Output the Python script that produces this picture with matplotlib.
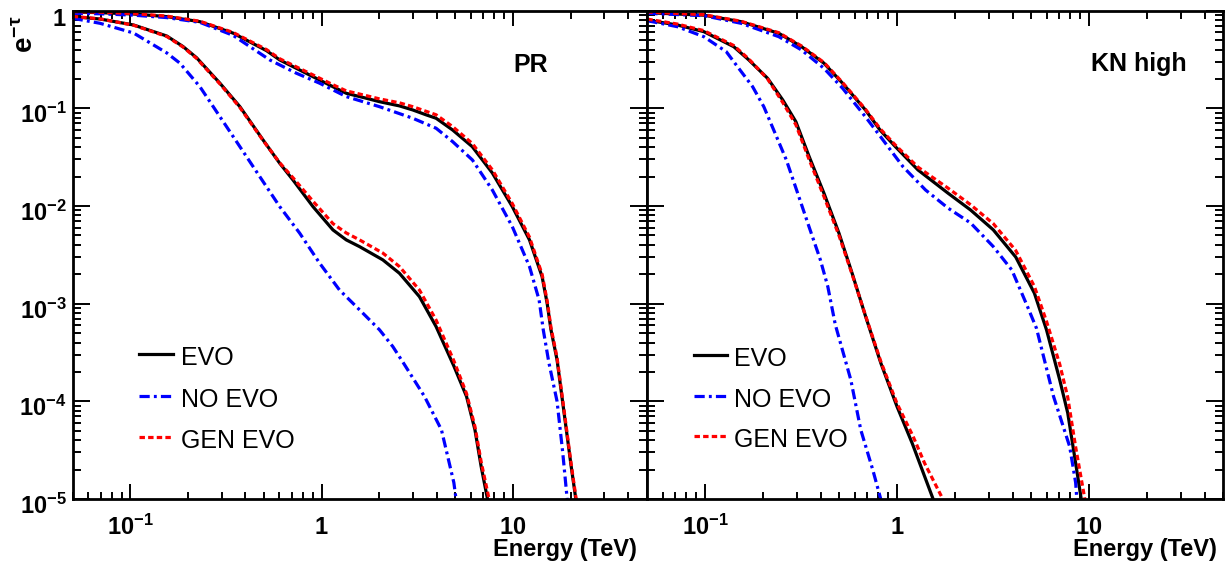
import matplotlib
matplotlib.use('Agg')
import matplotlib.pyplot as plt
import matplotlib.transforms as mtransforms
from matplotlib.ticker import LogLocator, NullFormatter, FixedLocator, FixedFormatter

# --- Fonts ---
plt.rcParams['font.family'] = ['Liberation Sans', 'DejaVu Sans']
plt.rcParams['mathtext.fontset'] = 'custom'
plt.rcParams['mathtext.rm'] = 'Liberation Sans'
plt.rcParams['mathtext.bf'] = 'Liberation Sans:bold'
plt.rcParams['mathtext.it'] = 'Liberation Sans:italic'

# --- Data: PR model (left panel) ---
pr_e_evo_lo = [0.05, 0.0695, 0.104, 0.155, 0.231, 0.344, 0.515, 0.604, 0.768, 0.901, 1.15, 1.345,
               1.71, 2.007, 2.55, 2.995, 3.53, 3.964, 4.84, 6.13, 7.80, 9.92, 12.2, 14.2, 15.1,
               15.8, 17.0, 18.7, 20.1, 21.3]
pr_y_evo_lo = [0.97, 0.955, 0.925, 0.87, 0.772, 0.59, 0.39, 0.313, 0.247, 0.211, 0.166, 0.1427,
               0.127, 0.117, 0.106, 0.0963, 0.0856, 0.0792, 0.060, 0.0405, 0.0218, 0.00986, 0.0045,
               0.00189, 1.0e-3, 5.4e-4, 2.66e-4, 6.5e-5, 2.24e-5, 1.0e-5]
pr_e_gen_lo = [0.05, 0.0695, 0.104, 0.155, 0.231, 0.344, 0.515, 0.604, 0.768, 0.901, 1.15, 1.345,
               1.71, 2.007, 2.55, 2.995, 3.53, 3.964, 4.84, 6.13, 7.80, 9.92, 12.2, 14.2, 15.1,
               15.8, 17.0, 18.7, 20.1, 21.4]
pr_y_gen_lo = [0.98, 0.965, 0.935, 0.88, 0.78, 0.60, 0.40, 0.322, 0.256, 0.22, 0.174, 0.151,
               0.135, 0.125, 0.114, 0.104, 0.093, 0.086, 0.065, 0.0437, 0.0235, 0.0106, 0.0048,
               0.0020, 1.06e-3, 5.7e-4, 2.8e-4, 6.9e-5, 2.35e-5, 1.0e-5]
pr_e_no_lo = [0.05, 0.0695, 0.104, 0.155, 0.231, 0.344, 0.536, 0.738, 0.976, 1.345, 2.007, 2.995,
              3.964, 4.84, 6.14, 7.80, 9.92, 12.2, 13.7, 14.4, 15.4, 17.0, 18.2, 19.2]
pr_y_no_lo = [0.94, 0.93, 0.90, 0.85, 0.76, 0.56, 0.313, 0.229, 0.181, 0.132, 0.104, 0.0792,
              0.0626, 0.0456, 0.0296, 0.0146, 0.00615, 0.0024, 0.00109, 5.4e-4, 2.5e-4, 1.0e-4,
              3.0e-5, 1.0e-5]

pr_e_evo_hi = [0.05, 0.0695, 0.104, 0.155, 0.1885, 0.222, 0.294, 0.374, 0.494, 0.604, 0.708, 0.901,
               1.146, 1.345, 1.578, 2.088, 2.55, 3.245, 3.964, 4.91, 5.72, 6.33, 6.82, 7.36]
pr_y_evo_hi = [0.868, 0.822, 0.714, 0.551, 0.43, 0.33, 0.181, 0.104, 0.0475, 0.0274, 0.0185,
               0.00986, 0.00569, 0.0045, 0.00384, 0.00281, 0.00205, 0.00118, 5.83e-4, 2.3e-4,
               1.12e-4, 5.1e-5, 2.15e-5, 1.0e-5]
pr_e_gen_hi = [0.05, 0.0695, 0.104, 0.155, 0.1885, 0.222, 0.294, 0.374, 0.494, 0.604, 0.708, 0.901,
               1.146, 1.345, 1.578, 2.088, 2.55, 3.245, 3.964, 4.91, 5.72, 6.33, 6.82, 7.5]
pr_y_gen_hi = [0.875, 0.825, 0.71, 0.545, 0.425, 0.325, 0.178, 0.102, 0.047, 0.0277, 0.0195, 0.0112,
               0.0066, 0.0053, 0.0045, 0.0033, 0.0024, 0.00138, 6.8e-4, 2.6e-4, 1.2e-4, 5.5e-5,
               2.4e-5, 1.0e-5]
pr_e_no_hi = [0.05, 0.0695, 0.104, 0.155, 0.1817, 0.231, 0.294, 0.374, 0.475, 0.604, 0.768, 0.976,
              1.24, 1.578, 2.007, 2.355, 2.68, 3.45, 4.23, 4.91, 5.04]
pr_y_no_hi = [0.836, 0.743, 0.591, 0.37, 0.29, 0.1668, 0.0822, 0.0405, 0.020, 0.00986, 0.00527,
              0.0026, 0.00138, 8.65e-4, 5.4e-4, 3.64e-4, 2.46e-4, 1.12e-4, 5.1e-5, 1.47e-5, 1.0e-5]

# --- Data: KN high model (right panel) ---
kn_e_evo_lo = [0.05, 0.0985, 0.154, 0.242, 0.318, 0.416, 0.521, 0.684, 0.815, 0.98, 1.285, 1.845,
               2.415, 3.17, 4.15, 5.19, 6.0, 7.03, 7.74, 8.51, 9.1]
kn_y_evo_lo = [0.954, 0.90, 0.772, 0.587, 0.428, 0.29, 0.18, 0.0963, 0.060, 0.0405, 0.0234, 0.0135,
               0.0091, 0.0057, 0.0030, 0.00128, 5.4e-4, 1.66e-4, 7.6e-5, 2.33e-5, 1.0e-5]
kn_e_gen_lo = [0.05, 0.0985, 0.154, 0.242, 0.318, 0.416, 0.521, 0.684, 0.815, 0.98, 1.285, 1.845,
               2.415, 3.17, 4.15, 5.19, 6.0, 7.03, 7.74, 8.51, 9.5]
kn_y_gen_lo = [0.97, 0.91, 0.78, 0.595, 0.435, 0.295, 0.183, 0.098, 0.062, 0.042, 0.025, 0.0152,
               0.0103, 0.0066, 0.0035, 0.0015, 6.6e-4, 2.4e-4, 1.1e-4, 3.4e-5, 1.0e-5]
kn_e_no_lo = [0.05, 0.0985, 0.154, 0.242, 0.318, 0.416, 0.521, 0.684, 0.819, 1.073, 1.406, 1.845,
              2.415, 3.17, 3.96, 4.77, 5.32, 6.53, 7.92, 8.51, 8.63]
kn_y_no_lo = [0.94, 0.89, 0.743, 0.542, 0.396, 0.257, 0.16, 0.082, 0.0514, 0.0253, 0.0146, 0.0095,
              0.0067, 0.00384, 0.00221, 9.4e-4, 5.6e-4, 1.12e-4, 3.45e-5, 1.47e-5, 1.0e-5]

kn_e_evo_hi = [0.05, 0.0717, 0.0985, 0.141, 0.169, 0.2116, 0.2537, 0.297, 0.348, 0.416, 0.498, 0.583,
               0.684, 0.823, 0.999, 1.2, 1.54]
kn_y_evo_hi = [0.80, 0.714, 0.61, 0.428, 0.313, 0.203, 0.122, 0.073, 0.0322, 0.0135, 0.00527, 0.00205,
               7.5e-4, 2.46e-4, 8.85e-5, 3.7e-5, 1.0e-5]
kn_e_gen_hi = [0.05, 0.0717, 0.0985, 0.141, 0.169, 0.2116, 0.2537, 0.297, 0.348, 0.416, 0.498, 0.583,
               0.684, 0.823, 0.999, 1.21, 1.39, 1.73]
kn_y_gen_hi = [0.82, 0.73, 0.625, 0.44, 0.32, 0.2, 0.115, 0.068, 0.03, 0.0125, 0.0050, 0.0020,
               7.6e-4, 2.55e-4, 9.5e-5, 4.4e-5, 2.33e-5, 1.0e-5]
kn_e_no_hi = [0.05, 0.0717, 0.0985, 0.129, 0.1475, 0.1767, 0.2022, 0.2315, 0.265, 0.3036, 0.3476, 0.398,
              0.4355, 0.4766, 0.574, 0.647, 0.747, 0.822]
kn_y_no_hi = [0.79, 0.686, 0.542, 0.38, 0.267, 0.167, 0.104, 0.0556, 0.0296, 0.0135, 0.00615, 0.00283,
              0.0015, 6.1e-4, 1.66e-4, 5.1e-5, 1.99e-5, 1.0e-5]

# --- Labels ---
SERIES_LABELS = ['EVO', 'NO EVO', 'GEN EVO']
PANEL_TITLES = ['PR', 'KN high']
XTICKS = [0.1, 1, 10]
XTICK_LABELS = [r'$\mathbf{10^{-1}}$', r'$\mathbf{1}$', r'$\mathbf{10}$']
YTICKS = [1e-5, 1e-4, 1e-3, 1e-2, 1e-1, 1]
YTICK_LABELS = [r'$\mathbf{10^{-5}}$', r'$\mathbf{10^{-4}}$', r'$\mathbf{10^{-3}}$',
                r'$\mathbf{10^{-2}}$', r'$\mathbf{10^{-1}}$', r'$\mathbf{1}$']

# --- Styles ---
LW = 2.3
STYLES = {
    'EVO': dict(color='black', lw=LW, linestyle='-'),
    'NO EVO': dict(color='#0000ff', lw=LW, linestyle=(0, (3.2, 1.3, 0.9, 1.3))),
    'GEN EVO': dict(color='#ff0000', lw=LW, linestyle=(0, (1.7, 1.0))),
}

W, H = 1228, 566


def fx(px):
    return px / W


def fy(py):
    return 1 - py / H


def style_axes(ax, show_ylabels):
    ax.set_xscale('log')
    ax.set_yscale('log')
    ax.set_xlim(0.05, 50)
    ax.set_ylim(1e-5, 1)
    for sp in ax.spines.values():
        sp.set_linewidth(2.0)
    ax.xaxis.set_major_locator(FixedLocator(XTICKS))
    ax.xaxis.set_major_formatter(FixedFormatter(XTICK_LABELS))
    ax.xaxis.set_minor_locator(LogLocator(base=10, subs=range(2, 10)))
    ax.xaxis.set_minor_formatter(NullFormatter())
    ax.yaxis.set_major_locator(FixedLocator(YTICKS))
    ax.yaxis.set_major_formatter(FixedFormatter(YTICK_LABELS))
    ax.yaxis.set_minor_locator(LogLocator(base=10, subs=range(2, 10), numticks=20))
    ax.yaxis.set_minor_formatter(NullFormatter())
    ax.tick_params(axis='x', which='major', direction='in', length=10.8, width=1.4,
                   top=True, labelsize=17, pad=25.5)
    ax.tick_params(axis='x', which='minor', direction='in', length=5.4, width=1.4, top=True)
    ax.tick_params(axis='y', which='major', direction='in', length=12, width=1.4,
                   right=True, labelsize=17, pad=4.3, labelleft=show_ylabels)
    ax.tick_params(axis='y', which='minor', direction='in', length=6.1, width=1.4, right=True)


def draw_panel(ax, curves):
    for label in ['EVO', 'NO EVO', 'GEN EVO']:
        for e, y in curves[label]:
            ax.plot(e, y, **STYLES[label])


def draw_legend(fig, x0, x1, xt, rows):
    for label, py in zip(SERIES_LABELS, rows):
        fig.add_artist(plt.Line2D([fx(x0), fx(x1)], [fy(py), fy(py)],
                                  transform=fig.transFigure, **STYLES[label]))
        fig.text(fx(xt), fy(py + 11), label, fontsize=18, ha='left', va='baseline')


fig = plt.figure(figsize=(W / 100, H / 100), dpi=100)
ax_l = fig.add_axes([fx(72.7), fy(499), fx(646.7) - fx(72.7), fy(10.7) - fy(499)])
ax_r = fig.add_axes([fx(647.3), fy(499), fx(1223.3) - fx(647.3), fy(10.7) - fy(499)])

draw_panel(ax_l, {
    'EVO': [(pr_e_evo_lo, pr_y_evo_lo), (pr_e_evo_hi, pr_y_evo_hi)],
    'NO EVO': [(pr_e_no_lo, pr_y_no_lo), (pr_e_no_hi, pr_y_no_hi)],
    'GEN EVO': [(pr_e_gen_lo, pr_y_gen_lo), (pr_e_gen_hi, pr_y_gen_hi)],
})
draw_panel(ax_r, {
    'EVO': [(kn_e_evo_lo, kn_y_evo_lo), (kn_e_evo_hi, kn_y_evo_hi)],
    'NO EVO': [(kn_e_no_lo, kn_y_no_lo), (kn_e_no_hi, kn_y_no_hi)],
    'GEN EVO': [(kn_e_gen_lo, kn_y_gen_lo), (kn_e_gen_hi, kn_y_gen_hi)],
})

style_axes(ax_l, True)
style_axes(ax_r, False)

# align tick labels on their baselines, like the original
y_shift = mtransforms.ScaledTranslation(0, -15 / 100, fig.dpi_scale_trans)
for ax in (ax_l, ax_r):
    for t in ax.get_xticklabels():
        t.set_verticalalignment('baseline')
for t in ax_l.get_yticklabels():
    t.set_verticalalignment('baseline')
    t.set_transform(t.get_transform() + y_shift)

# Titles and axis labels
fig.text(fx(513), fy(71.7), PANEL_TITLES[0], fontsize=18, fontweight='bold', va='baseline')
fig.text(fx(1091), fy(71.0), PANEL_TITLES[1], fontsize=18, fontweight='bold', va='baseline')
fig.text(fx(637), fy(556), 'Energy (TeV)', fontsize=17, fontweight='bold', ha='right', va='baseline')
fig.text(fx(1216.7), fy(556), 'Energy (TeV)', fontsize=17, fontweight='bold', ha='right', va='baseline')
fig.text(fx(25), fy(16), r'$\mathbf{e^{-\tau}}$', fontsize=20, rotation=90, ha='center', va='top')

# Legends
draw_legend(fig, 139, 172.6, 181, [354, 396, 437])
draw_legend(fig, 694, 726.5, 734.5, [355, 396, 436])

fig.savefig('out.png', dpi=100)
